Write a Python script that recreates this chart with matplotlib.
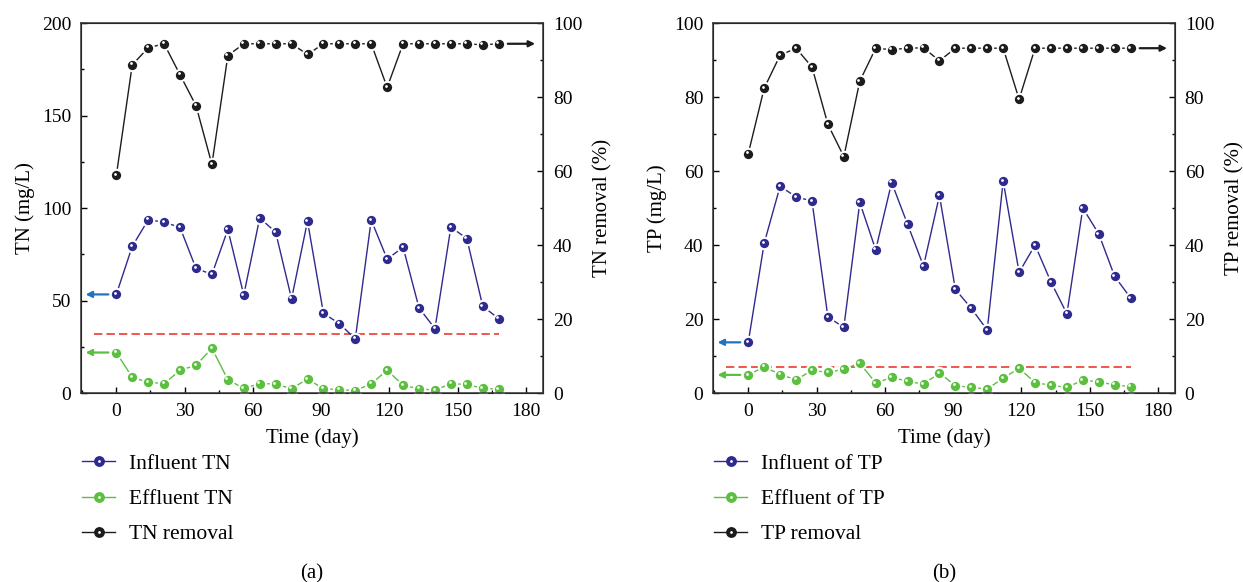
import matplotlib
matplotlib.use("Agg")
from matplotlib import pyplot as plt
from matplotlib import transforms as mtransforms
from matplotlib.legend_handler import HandlerTuple
from matplotlib.lines import Line2D
from matplotlib.ticker import MultipleLocator

plt.rcParams['font.family'] = ['Liberation Serif', 'DejaVu Serif']

days = list(range(0, 169, 7))

tn_in = [53.3, 79.3, 93.6, 92.4, 89.5, 67.4, 64.1, 88.4, 53.0, 94.6, 87.0, 50.9, 92.9,
         43.1, 37.5, 29.3, 93.5, 72.4, 78.8, 46.0, 34.8, 89.7, 83.5, 46.9, 40.2]
tn_out = [21.9, 8.5, 5.8, 5.1, 12.3, 15.0, 24.2, 7.2, 2.5, 5.1, 4.9, 2.3, 7.6,
          2.3, 1.8, 1.3, 5.0, 12.3, 4.2, 2.3, 1.6, 5.0, 4.7, 2.5, 2.1]
tn_rem = [58.8, 88.7, 93.3, 94.4, 86.0, 77.7, 61.8, 91.2, 94.4, 94.4, 94.4, 94.4, 91.5,
          94.4, 94.4, 94.4, 94.4, 82.6, 94.4, 94.4, 94.4, 94.4, 94.4, 94.1, 94.4]
tn_limit = 32

tp_in = [13.7, 40.5, 55.9, 53.0, 51.9, 20.5, 17.8, 51.5, 38.7, 56.9, 45.6, 34.3, 53.4,
         28.0, 22.9, 17.0, 57.3, 32.6, 40.0, 30.0, 21.4, 50.0, 43.0, 31.5, 25.7]
tp_out = [4.9, 7.1, 5.0, 3.6, 6.1, 5.6, 6.4, 8.1, 2.7, 4.2, 3.2, 2.4, 5.4,
          2.0, 1.5, 1.1, 4.0, 6.7, 2.8, 2.1, 1.5, 3.5, 3.0, 2.2, 1.7]
tp_rem = [64.7, 82.4, 91.3, 93.2, 88.1, 72.6, 63.9, 84.3, 93.2, 92.8, 93.2, 93.3, 89.8,
          93.2, 93.2, 93.2, 93.2, 79.4, 93.2, 93.2, 93.2, 93.2, 93.2, 93.2, 93.2]
tp_limit = 7

BLUE = '#2f2a8e'
GREEN = '#5cbf40'
BLACK = '#1c1c1c'
RED = '#ee3b2e'
ARROW_BLUE = '#1f74c0'


def ball_series(fig, ax, x, y, color):
    # ball with a thin white gap where the line meets it, plus a small shine
    ax.plot(x, y, '-', color=color, lw=1.0, marker='o', ms=8.2,
            mfc=color, mec='white', mew=1.5, zorder=3)
    off = mtransforms.offset_copy(ax.transData, fig=fig, x=-1.0, y=1.0, units='points')
    ax.plot(x, y, ls='none', marker='o', ms=2.0, mfc='white', mec='none',
            transform=off, zorder=4)
    ball = Line2D([], [], color=color, lw=1.0, marker='o', ms=6.8, mfc=color, mec=color)
    shine = Line2D([], [], ls='none', marker='o', ms=2.0, mfc='white', mec='none')
    return (ball, shine)


def set_ticks(ax):
    ax.tick_params(which='both', direction='in', labelsize=14, pad=7)
    ax.tick_params(which='major', length=4.5, width=1.0)
    ax.tick_params(which='minor', length=2.5, width=1.0)


def arrow(ax, x0, x1, y, color):
    ax.annotate('', xy=(x1, y), xytext=(x0, y),
                arrowprops=dict(arrowstyle='-|>', color=color, lw=1.6,
                                mutation_scale=9, shrinkA=0, shrinkB=0))


def panel(fig, rect, inf, eff, rem, limit, ymax, ymajor, name, labels, tag):
    ax = fig.add_axes(rect)
    ax2 = ax.twinx()
    ax.set_xlim(-15.5, 187.5)
    ax.set_ylim(0, ymax)
    ax.xaxis.set_major_locator(MultipleLocator(30))
    ax.xaxis.set_minor_locator(MultipleLocator(15))
    ax.yaxis.set_major_locator(MultipleLocator(ymajor))
    ax.yaxis.set_minor_locator(MultipleLocator(ymajor / 2))
    ax2.set_ylim(0, 100)
    ax2.yaxis.set_major_locator(MultipleLocator(20))
    ax2.yaxis.set_minor_locator(MultipleLocator(10))
    set_ticks(ax)
    set_ticks(ax2)
    for s in ax2.spines.values():
        s.set_linewidth(1.1)
        s.set_color('#333333')

    ax.plot([-10, 168], [limit, limit], ls=(0, (5, 2.5)), color=RED, lw=1.2, zorder=2)
    h1 = ball_series(fig, ax, days, inf, BLUE)
    h2 = ball_series(fig, ax, days, eff, GREEN)
    h3 = ball_series(fig, ax2, days, rem, BLACK)

    arrow(ax, -3.5, -13.5, inf[0], ARROW_BLUE)
    arrow(ax, -3.5, -13.5, eff[0], GREEN)
    arrow(ax2, 172, 184, rem[-1], BLACK)

    ax.set_xlabel('Time (day)', fontsize=15, labelpad=6)
    ax.set_ylabel(name + ' (mg/L)', fontsize=15, labelpad=5)
    ax2.set_ylabel(name + ' removal (%)', fontsize=15, labelpad=8)

    ax.legend([h1, h2, h3], labels, handler_map={tuple: HandlerTuple(ndivide=1)},
              loc='upper left', bbox_to_anchor=(-0.04, -0.112), frameon=False,
              fontsize=15.5, handlelength=1.55, handletextpad=0.65, labelspacing=0.7,
              borderpad=0.4)
    ax.text(0.5, -0.49, tag, transform=ax.transAxes, ha='center', va='center',
            fontsize=15)
    return ax


fig = plt.figure(figsize=(12.43, 5.82), dpi=100)
panel(fig, [0.0652, 0.3247, 0.3717, 0.6357], tn_in, tn_out, tn_rem, tn_limit, 200, 50,
      'TN', ['Influent TN', 'Effluent TN', 'TN removal'], '(a)')
panel(fig, [0.5736, 0.3247, 0.3717, 0.6357], tp_in, tp_out, tp_rem, tp_limit, 100, 20,
      'TP', ['Influent of TP', 'Effluent of TP', 'TP removal'], '(b)')

fig.savefig('out.png', dpi=100)
